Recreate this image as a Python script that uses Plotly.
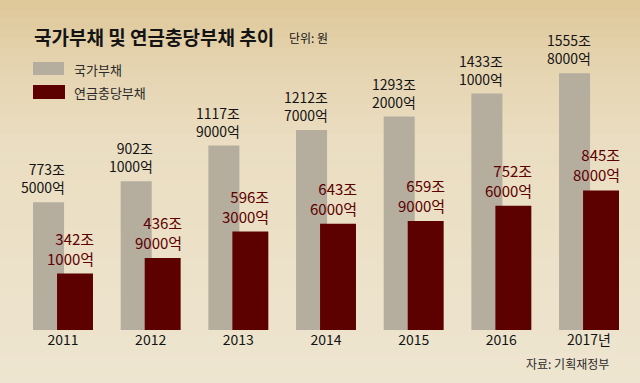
import plotly.graph_objects as go

years = [2011, 2012, 2013, 2014, 2015, 2016, 2017]
tick_labels = ["2011", "2012", "2013", "2014", "2015", "2016", "2017년"]
national_debt = [773.5, 902.1, 1117.9, 1212.7, 1293.2, 1433.1, 1555.8]
national_labels = ["773조<br>5000억", "902조<br>1000억", "1117조<br>9000억", "1212조<br>7000억",
                   "1293조<br>2000억", "1433조<br>1000억", "1555조<br>8000억"]
pension_debt = [342.1, 436.9, 596.3, 643.6, 659.9, 752.6, 845.8]
pension_labels = ["342조<br>1000억", "436조<br>9000억", "596조<br>3000억", "643조<br>6000억",
                  "659조<br>9000억", "752조<br>6000억", "845조<br>8000억"]

FONT = "Noto Sans CJK KR"
GRAY = "#b5ad9e"
RED = "#5c0000"
TXT = "#141414"

W, H = 640, 383
PLOT_BOTTOM = 330  # px from top where plot area ends

# background gradient stops (px from top, rgb)
bg_stops = [(0, (223, 199, 152)), (50, (228, 210, 172)), (140, (234, 221, 193)), (383, (238, 229, 208))]

# geometry in x-axis units (one category = 1 unit)
G_OFF, G_W = -0.342, 0.354
R_OFF, R_W = -0.068, 0.41

fig = go.Figure()
fig.add_trace(go.Bar(x=years, y=national_debt, name="국가부채", marker_color=GRAY,
                     marker_line_width=0, offset=G_OFF, width=G_W))
fig.add_trace(go.Bar(x=years, y=pension_debt, name="연금충당부채", marker_color=RED,
                     marker_line_width=0, offset=R_OFF, width=R_W))

annotations = []
for x, v, t in zip(years, national_debt, national_labels):
    annotations.append(dict(x=x + G_OFF + G_W, y=v, xref="x", yref="y", text=t, showarrow=False,
                            xanchor="right", yanchor="bottom", align="right", xshift=3, yshift=3,
                            font=dict(family=FONT, size=14, color=TXT)))
for x, v, t in zip(years, pension_debt, pension_labels):
    annotations.append(dict(x=x + R_OFF + R_W, y=v, xref="x", yref="y", text=t, showarrow=False,
                            xanchor="right", yanchor="bottom", align="right", xshift=3, yshift=3,
                            font=dict(family=FONT, size=15, color=RED)))


def px(xp):
    return xp / W


def py(yp):
    return (PLOT_BOTTOM - yp) / PLOT_BOTTOM


annotations += [
    dict(x=px(32), y=py(36), xref="paper", yref="paper", text="<b>국가부채 및 연금충당부채 추이</b>",
         showarrow=False, xanchor="left", yanchor="middle",
         font=dict(family=FONT, size=19, color=TXT)),
    dict(x=px(287), y=py(38), xref="paper", yref="paper", text="단위: 원",
         showarrow=False, xanchor="left", yanchor="middle",
         font=dict(family=FONT, size=12, color=TXT)),
    dict(x=px(72), y=py(69), xref="paper", yref="paper", text="국가부채",
         showarrow=False, xanchor="left", yanchor="middle",
         font=dict(family=FONT, size=13, color="#2a2a2a")),
    dict(x=px(72), y=py(92), xref="paper", yref="paper", text="연금충당부채",
         showarrow=False, xanchor="left", yanchor="middle",
         font=dict(family=FONT, size=13, color="#2a2a2a")),
    dict(x=px(611), y=py(363), xref="paper", yref="paper", text="자료: 기획재정부",
         showarrow=False, xanchor="right", yanchor="middle",
         font=dict(family=FONT, size=12, color="#2a2a2a")),
]

shapes = []
# vertical background gradient drawn as thin bands behind everything
n_bands = 40
for i in range(n_bands):
    ya, yb = H * i / n_bands, H * (i + 1) / n_bands
    ym = (ya + yb) / 2
    for (s0, c0), (s1, c1) in zip(bg_stops[:-1], bg_stops[1:]):
        if s0 <= ym <= s1:
            f = (ym - s0) / (s1 - s0)
            c = tuple(round(a + (b - a) * f) for a, b in zip(c0, c1))
            break
    shapes.append(dict(type="rect", xref="paper", yref="paper", x0=0, x1=1,
                       y0=py(yb + 0.5), y1=py(ya), fillcolor="rgb(%d,%d,%d)" % c,
                       line_width=0, layer="below"))

shapes += [
    dict(type="rect", xref="paper", yref="paper", x0=px(33), x1=px(64),
         y0=py(75), y1=py(62), fillcolor=GRAY, line_width=0),
    dict(type="rect", xref="paper", yref="paper", x0=px(33), x1=px(65),
         y0=py(99), y1=py(85), fillcolor=RED, line_width=0),
]

px_per_unit = 87.67
x0 = 2011 - 63 / px_per_unit
x1 = x0 + W / px_per_unit

BG = "rgb(238,229,208)"
fig.update_layout(
    width=W, height=H,
    margin=dict(l=0, r=0, t=0, b=H - PLOT_BOTTOM, autoexpand=False),
    paper_bgcolor=BG, plot_bgcolor="rgba(0,0,0,0)",
    barmode="overlay",
    showlegend=False,
    annotations=annotations,
    shapes=shapes,
    xaxis=dict(range=[x0, x1], tickvals=years, ticktext=tick_labels, showgrid=False,
               zeroline=False, showline=False, ticks="", fixedrange=True, automargin=False,
               tickfont=dict(family=FONT, size=14, color=TXT)),
    yaxis=dict(range=[0, 2000], visible=False, showgrid=False, zeroline=False, fixedrange=True),
    font=dict(family=FONT),
)

fig.write_html("out.html", config={"displayModeBar": False},
               post_script="document.body.style.margin='0';document.body.style.background='" + BG + "';")
